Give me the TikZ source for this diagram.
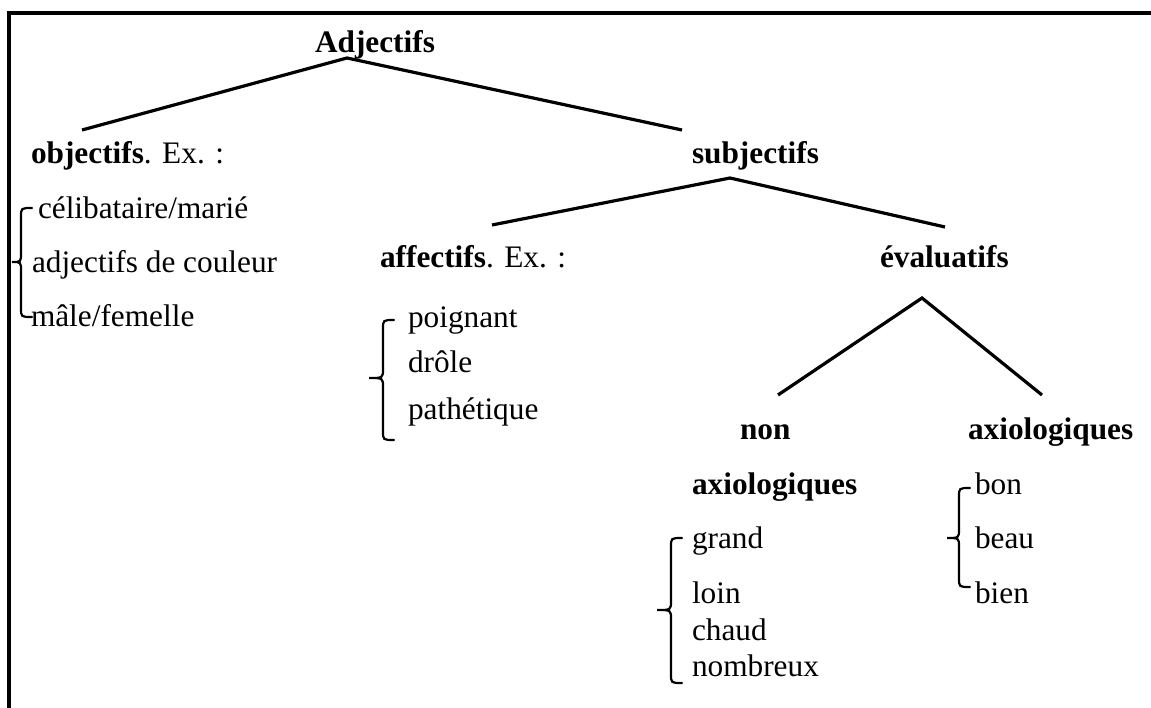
\documentclass[tikz,border=0pt]{standalone}
\usepackage{fontspec}
\setmainfont{Liberation Serif}

% Curly brace with horizontal hooks: #1 = x of the stem, #2 = x of the hook ends,
% #3 = x of the tip, #4 = top y, #5 = tip y, #6 = bottom y
\newcommand{\hookbrace}[6]{%
  \draw[bracestroke] (#2,#4) .. controls (#1,#4) and (#1,#4) .. (#1,#4+9)
    -- (#1,#5-9) .. controls (#1,#5) and (#1,#5) .. (#3,#5)
    .. controls (#1,#5) and (#1,#5) .. (#1,#5+9)
    -- (#1,#6-9) .. controls (#1,#6) and (#1,#6) .. (#2,#6);}

\begin{document}
\begin{tikzpicture}[x=1pt,y=-1pt,
  every node/.style={inner sep=0pt, outer sep=0pt, anchor=base west,
    font=\fontsize{31.3}{37}\selectfont},
  head/.style={font=\fontsize{31.3}{37}\selectfont\bfseries},
  branch/.style={line width=3.2pt},
  frameline/.style={line width=3.4pt},
  bracestroke/.style={line width=2.2pt, line cap=round}]

\useasboundingbox (0,0) rectangle (1151,708);
\fill[white] (0,0) rectangle (1151,708);

% open frame: left and top edges only
\draw[frameline] (9,709) -- (9,13) -- (1152,13);

% labels of the tree
\node[head] (adj) at (315,53) {Adjectifs};
\node (obj) at (31,164) {\textbf{objectifs}. Ex. :};
\node[head] (subj) at (692,164) {subjectifs};
\node (aff) at (380,268) {\textbf{affectifs}. Ex. :};
\node[head] (eval) at (880,268) {évaluatifs};
\node[head] (non) at (740,439) {non};
\node[head] (nonaxio) at (692,494) {axiologiques};
\node[head] (axio) at (968,439) {axiologiques};

% examples
\node (ex1) at (38,219) {célibataire/marié};
\node (ex2) at (32,273) {adjectifs de couleur};
\node (ex3) at (31,327) {mâle/femelle};

\node (af1) at (408,328) {poignant};
\node (af2) at (408,373) {drôle};
\node (af3) at (408,419) {pathétique};

\node (na1) at (692,548) {grand};
\node (na2) at (692,603) {loin};
\node (na3) at (692,640) {chaud};
\node (na4) at (692,676) {nombreux};

\node (ax1) at (975,494) {bon};
\node (ax2) at (975,548) {beau};
\node (ax3) at (975,603) {bien};

% branch points
\coordinate (adjtop) at (347,58);
\coordinate (objend) at (82,130);
\coordinate (subjend) at (682,130);
\coordinate (subjtop) at (730,178);
\coordinate (affend) at (492,225);
\coordinate (evalend) at (945,227);
\coordinate (evaltop) at (922,298);
\coordinate (nonend) at (778,395);
\coordinate (axioend) at (1042,395);

\draw[branch] (objend) -- (adjtop) -- (subjend);
\draw[branch] (affend) -- (subjtop) -- (evalend);
\draw[branch] (nonend) -- (evaltop) -- (axioend);

% braces grouping the examples
\hookbrace{21}{32}{12}{208}{262}{317}
\hookbrace{383}{394}{369}{320}{378}{440}
\hookbrace{671}{682}{657}{538}{610}{683}
\hookbrace{959}{970}{947}{488}{538}{587}

\end{tikzpicture}
\end{document}
